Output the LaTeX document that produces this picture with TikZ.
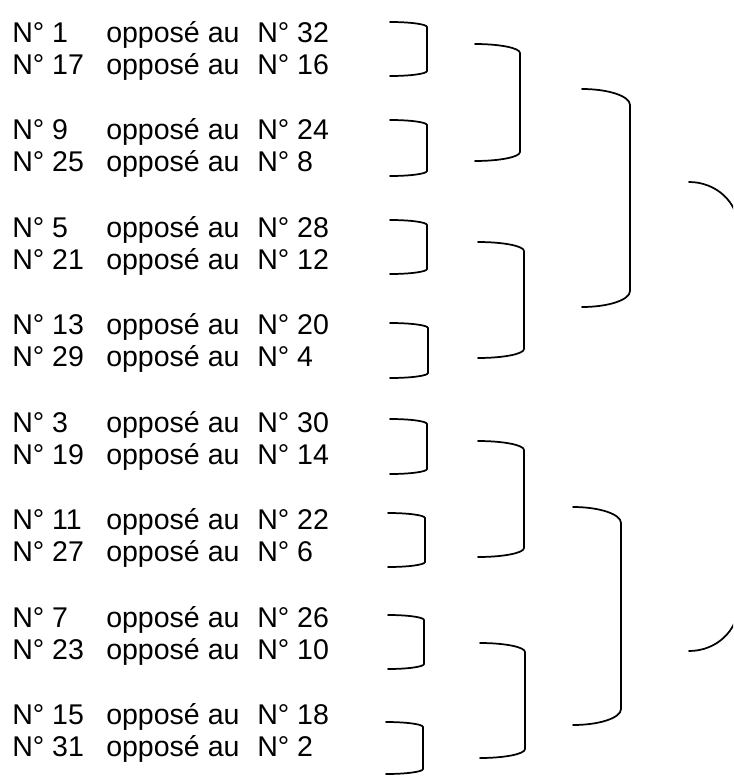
\documentclass[tikz,border=0pt]{standalone}
\usepackage{fontspec}
\setmainfont{Liberation Sans}
\tikzset{
  lbl/.style={anchor=base west, inner sep=0pt, font=\fontsize{21.4}{25}\selectfont},
  brk/.style={line width=1.3pt, line cap=round, line join=round}
}
\newcommand\bracketshape[5]{%
  \draw[brk] (#1,#3) .. controls ({#1+0.552*(#2-#1)},#3) and (#2,{#3+0.448*#5}) .. (#2,{#3+#5})
    -- (#2,{#4-#5}) .. controls (#2,{#4-0.448*#5}) and ({#1+0.552*(#2-#1)},#4) .. (#1,#4);}
\begin{document}
\begin{tikzpicture}[x=0.75pt,y=-0.75pt]
\path[use as bounding box] (0,0) rectangle (733,778);
\clip (0,0) rectangle (733,778);
\foreach \a/\b [count=\i from 0] in {1/32,17/16,9/24,25/8,5/28,21/12,13/20,29/4,3/30,19/14,11/22,27/6,7/26,23/10,15/18,31/2}{
  \pgfmathsetmacro\yb{42+97.5*floor(\i/2)+32*mod(\i,2)}
  \node[lbl] (a\i) at (12,\yb) {N° \a};
  \node[lbl] (o\i) at (106,\yb) {opposé au};
  \node[lbl] (b\i) at (257,\yb) {N° \b};
}
% first level
\bracketshape{390}{427}{22}{76}{5}
\bracketshape{390}{427}{120}{176}{5}
\bracketshape{390}{427}{220}{274}{5}
\bracketshape{390}{428}{323}{378}{5}
\bracketshape{390}{427}{419}{474}{5}
\bracketshape{388}{425}{513}{567}{5}
\bracketshape{388}{424}{615}{669}{5}
\bracketshape{386}{423}{722}{774}{5}
% second level
\bracketshape{475}{520}{44}{161}{9}
\bracketshape{478}{524}{242}{358}{9}
\bracketshape{478}{524}{441}{557}{9}
\bracketshape{480}{525}{643}{758}{9}
% third level
\bracketshape{582}{630}{89}{307}{16}
\bracketshape{573}{621}{507}{725}{16}
% fourth level
\bracketshape{689}{738}{182}{651}{45}
\end{tikzpicture}
\end{document}
